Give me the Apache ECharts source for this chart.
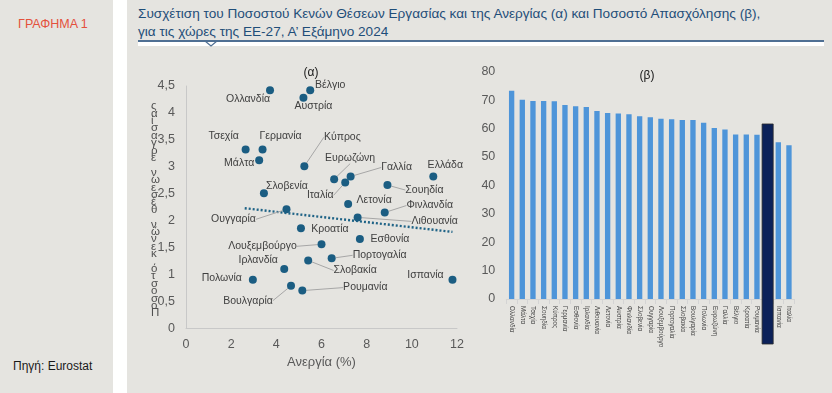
<!DOCTYPE html>
<html><head><meta charset="utf-8">
<script src="https://cdn.jsdelivr.net/npm/echarts@6/dist/echarts.min.js"></script>
<style>
html,body{margin:0;padding:0;width:832px;height:393px;overflow:hidden;background:#e5e4e0;font-family:"Liberation Sans",Arial,sans-serif;}
#left{position:absolute;left:0;top:0;width:113px;height:393px;background:#e5e4e0;}
#strip{position:absolute;left:113px;top:0;width:14px;height:393px;background:#ffffff;}
#main{position:absolute;left:127px;top:0;width:705px;height:393px;background:#e5e4e0;}
#gr{position:absolute;left:18px;top:17px;color:#e4503c;font-size:12.5px;}
#src{position:absolute;left:13px;top:359px;color:#1a1a1a;font-size:12px;}
#t1{position:absolute;left:138px;top:6px;color:#1f4e79;font-size:13.6px;white-space:nowrap;}
#t2{position:absolute;left:138px;top:24px;color:#1f4e79;font-size:13.6px;white-space:nowrap;}
#rule{position:absolute;left:138px;top:40px;width:686px;height:1.5px;background:#4f6f93;}
#band{position:absolute;left:138px;top:41.5px;width:686px;height:4.5px;background:#ffffff;}
#notch{position:absolute;left:204px;top:40px;}
#chart{position:absolute;left:0;top:0;width:832px;height:393px;}
</style></head>
<body>
<div id="left"></div><div id="strip"></div><div id="main"></div>
<div id="gr">ΓΡΑΦΗΜΑ 1</div>
<div id="src">Πηγή: Eurostat</div>
<div id="t1">Συσχέτιση του Ποσοστού Κενών Θέσεων Εργασίας και της Ανεργίας (α) και Ποσοστό Απασχόλησης (β),</div>
<div id="t2">για τις χώρες της ΕΕ-27, Α’ Εξάμηνο 2024</div>
<div id="rule"></div><div id="band"></div>
<svg id="notch" width="14" height="8"><polyline points="1,1 7,6 13,1" fill="none" stroke="#4f6f93" stroke-width="1.2"/></svg>
<div id="chart"></div>
<script>
// ---- (α) scatter data ----
const scatterNames = ['Βέλγιο','Ολλανδία','Αυστρία','Τσεχία','Γερμανία','Μάλτα','Κύπρος','Ευρωζώνη','Γαλλία','Ιταλία','Ελλάδα','Σουηδία','Σλοβενία','Λετονία','Φινλανδία','Ουγγαρία','Λιθουανία','Κροατία','Εσθονία','Λουξεμβούργο','Πορτογαλία','Σλοβακία','Ιρλανδία','Πολωνία','Ισπανία','Βουλγαρία','Ρουμανία'];
const unemployment = [5.5, 3.72, 5.2, 2.64, 3.39, 3.24, 5.24, 6.56, 7.29, 7.05, 10.95, 8.92, 3.45, 7.18, 8.8, 4.45, 7.6, 5.09, 7.7, 6.0, 6.45, 5.41, 4.35, 2.96, 11.8, 4.65, 5.15];
const vacancyRate = [4.42, 4.42, 4.28, 3.32, 3.32, 3.12, 3.01, 2.77, 2.82, 2.71, 2.82, 2.66, 2.51, 2.31, 2.15, 2.21, 2.06, 1.86, 1.66, 1.56, 1.30, 1.26, 1.10, 0.90, 0.90, 0.79, 0.70];
const trendX = [2.6, 11.8];
const trendY = [2.23, 1.79];
const scatterXTicks = {min: 0, max: 12, interval: 2};
const scatterYTicks = {min: 0, max: 4.5, interval: 0.5};

// ---- (β) bar data ----
const barCategories = ['Ολλανδία','Μάλτα','Τσεχία','Σουηδία','Κύπρος','Γερμανία','Εσθονία','Ιρλανδία','Λιθουανία','Λετονία','Αυστρία','Φινλανδία','Σλοβενία','Ουγγαρία','Λουξεμβούργο','Πορτογαλία','Σλοβακία','Βουλγαρία','Πολωνία','Ευρωζώνη','Γαλλία','Βέλγιο','Κροατία','Ρουμανία','Ελλάδα','Ισπανία','Ιταλία'];
const employmentRate = [73.3, 70.1, 69.7, 69.7, 69.6, 68.3, 67.8, 67.6, 66.2, 65.5, 65.3, 65.0, 64.3, 64.0, 63.4, 63.3, 63.0, 63.0, 62.0, 60.2, 59.7, 57.9, 57.9, 57.8, 61.6, 55.2, 54.1];
const highlightCategory = 'Ελλάδα';
const barYTicks = {min: 0, max: 80, interval: 10};

// ---- label placement (layout only) ----
const labelPlace = {
 'Βέλγιο':[20,-5],'Ολλανδία':[-22,9],'Αυστρία':[10,8],'Τσεχία':[-22,-13],'Γερμανία':[18,-13],
 'Μάλτα':[-20,3],'Κύπρος':[38,-29],'Ευρωζώνη':[16,-21],'Γαλλία':[46,-9],'Ιταλία':[-25,13],
 'Ελλάδα':[12,-11],'Σουηδία':[37,5],'Σλοβενία':[23,-7],'Λετονία':[26,-4],'Φινλανδία':[45,-7],
 'Ουγγαρία':[-53,10],'Λιθουανία':[77,4],'Κροατία':[29,1],'Εσθονία':[30,0],'Λουξεμβούργο':[-59,2],
 'Πορτογαλία':[48,-3],'Σλοβακία':[47,10],'Ιρλανδία':[-26,-9],'Πολωνία':[-31,-2],'Ισπανία':[-27,-5],
 'Βουλγαρία':[-43,15],'Ρουμανία':[63,-3]
};
const withLine = ['Κύπρος','Ευρωζώνη','Γαλλία','Ιταλία','Σουηδία','Φινλανδία','Λιθουανία','Ουγγαρία','Λουξεμβούργο','Πορτογαλία','Σλοβακία','Βουλγαρία','Ρουμανία'];

const yTitle = 'Ποσοστό κενών θέσεων εργασίας'.split('').reverse().join('\n');
const comma = v => String(v).replace('.', ',');
const grey = '#595959';

const scatterData = scatterNames.map((n, i) => ({
  name: n, value: [unemployment[i], vacancyRate[i]],
  labelLine: {show: withLine.indexOf(n) >= 0}
}));
const hi = barCategories.indexOf(highlightCategory);

const chart = echarts.init(document.getElementById('chart'), null, {renderer: 'canvas'});
chart.setOption({
  backgroundColor: 'transparent',
  animation: false,
  textStyle: {fontFamily: '"Liberation Sans", Arial, sans-serif'},
  title: [
    {text: '(α)', left: 306, top: 62, textAlign: 'center', textStyle: {fontSize: 12, fontWeight: 'normal', color: '#1a1a1a'}},
    {text: '(β)', left: 642, top: 65, textAlign: 'center', textStyle: {fontSize: 12, fontWeight: 'normal', color: '#1a1a1a'}}
  ],
  graphic: [{
    type: 'text', left: 151, top: 100,
    style: {text: yTitle, lineHeight: 7.4, fill: '#505050', align: 'center',
            font: '11.5px "Liberation Sans", Arial, sans-serif'}
  }],
  grid: [
    {left: 186, top: 86, width: 271, height: 242.3},
    {left: 506.3, top: 71.7, width: 288, height: 227.3}
  ],
  xAxis: [
    {type: 'value', gridIndex: 0, min: scatterXTicks.min, max: scatterXTicks.max, interval: scatterXTicks.interval,
     name: 'Ανεργία (%)', nameLocation: 'middle', nameGap: 28,
     nameTextStyle: {fontSize: 13, color: grey},
     axisLine: {show: true, lineStyle: {color: '#c8c8c8'}}, axisTick: {show: false},
     splitLine: {show: false}, axisLabel: {color: grey, fontSize: 12.5, margin: 10, formatter: comma}},
    {type: 'category', gridIndex: 1, data: barCategories,
     axisLine: {show: true, lineStyle: {color: '#d4d4d4'}},
     axisTick: {show: true, length: 5, lineStyle: {color: '#d4d4d4'}},
     axisLabel: {rotate: -90, interval: 0, fontSize: 6.3, color: '#444', margin: 7, padding: [0, 0, 9, 0]}}
  ],
  yAxis: [
    {type: 'value', gridIndex: 0, min: scatterYTicks.min, max: scatterYTicks.max, interval: scatterYTicks.interval,
     axisLine: {show: true, lineStyle: {color: '#c8c8c8'}}, axisTick: {show: false},
     splitLine: {show: false}, axisLabel: {color: grey, fontSize: 12.5, margin: 11, formatter: comma}},
    {type: 'value', gridIndex: 1, min: barYTicks.min, max: barYTicks.max, interval: barYTicks.interval,
     axisLine: {show: false}, axisTick: {show: false}, splitLine: {show: false},
     axisLabel: {color: grey, fontSize: 12.5, margin: 11}}
  ],
  series: [
    {type: 'line', xAxisIndex: 0, yAxisIndex: 0, data: trendX.map((x, i) => [x, trendY[i]]),
     symbol: 'none', lineStyle: {color: '#1f6386', width: 2.4, type: [2, 2]}, z: 1},
    {type: 'scatter', xAxisIndex: 0, yAxisIndex: 0, data: scatterData,
     symbolSize: 8, itemStyle: {color: '#1b5d82', opacity: 1}, z: 3,
     label: {show: true, formatter: p => p.name, fontSize: 10.5, color: '#404040'},
     labelLine: {show: false, lineStyle: {color: '#a6a6a6', width: 1}},
     labelLayout: function (p) {
       const off = labelPlace[scatterNames[p.dataIndex]] || [0, -10];
       return {x: p.rect.x + p.rect.width / 2 + off[0], y: p.rect.y + p.rect.height / 2 + off[1],
               align: 'center', verticalAlign: 'middle'};
     }},
    {type: 'bar', xAxisIndex: 1, yAxisIndex: 1, data: employmentRate, barWidth: '50%',
     itemStyle: {color: '#4e95d9'}},
    {type: 'custom', xAxisIndex: 1, yAxisIndex: 1, z: 5,
     data: [[hi, employmentRate[hi]]],
     renderItem: function (params, api) {
       const top = api.coord([api.value(0), api.value(1)]);
       const base = api.coord([api.value(0), 0]);
       const w = api.size([1, 0])[0] * 1.04;
       return {type: 'rect', shape: {x: top[0] - w / 2, y: top[1], width: w, height: base[1] - top[1] + 45},
               style: {fill: '#0b2159', stroke: '#2b2b2b', lineWidth: 0.8}};
     }}
  ]
});
</script>
</body></html>
